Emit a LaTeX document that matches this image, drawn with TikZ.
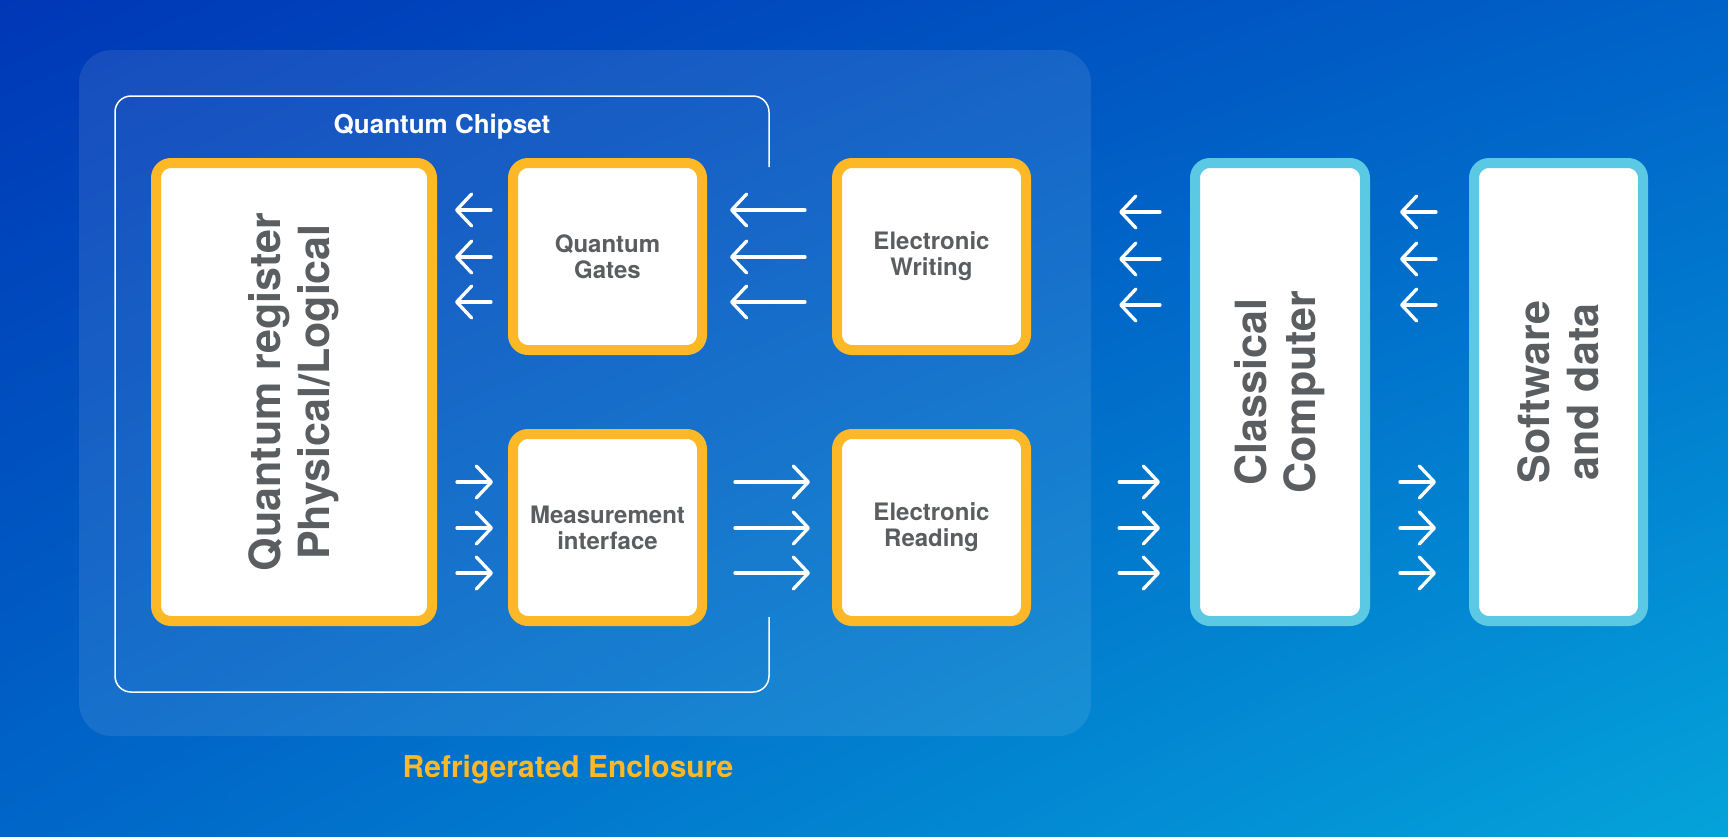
\documentclass[tikz,border=0pt]{standalone}
\usepackage{fontspec}
\setmainfont{TeX Gyre Heros}
\usetikzlibrary{arrows.meta,calc,shadings}
\definecolor{bgTL}{HTML}{0037B6}
\definecolor{bgTR}{HTML}{0062C8}
\definecolor{bgBL}{HTML}{0066C8}
\definecolor{bgBR}{HTML}{04A3DA}
\definecolor{qorange}{HTML}{FDB827}
\definecolor{qcyan}{HTML}{5BC8E4}
\definecolor{qgray}{HTML}{5A5E61}
\tikzset{
  qbox/.style={draw=qorange, line width=10pt, fill=white, rounded corners=15pt,
    inner sep=0pt, text=qgray, align=center,
    font=\bfseries\fontsize{24}{26}\selectfont},
  cbox/.style={qbox, draw=qcyan},
  bigtxt/.style={text=qgray, align=center, font=\bfseries\fontsize{43}{49}\selectfont},
  arr/.style={draw=white, line width=3.3pt, line cap=round,
    -{Straight Barb[length=15pt,width=32pt,line cap=round,line join=round]}},
  encl/.style={fill=white, fill opacity=0.09, rounded corners=33pt, inner sep=0pt},
}
\begin{document}
\begin{tikzpicture}[x=1pt,y=-1pt]
\useasboundingbox (0,0) rectangle (1728,836);
\shade[upper left=bgTL, upper right=bgTR, lower left=bgBL, lower right=bgBR] (0,0) rectangle (1728,836);
% enclosure
\node[encl, minimum width=1012pt, minimum height=686pt] (encl) at (585,393) {};
% chipset outline
\draw[white, line width=1.5pt, rounded corners=16pt] (769,167) -- (769,96) -- (115,96) -- (115,692) -- (769,692) -- (769,617);
\node[text=white, font=\bfseries\fontsize{26}{28}\selectfont] (chip) at (442,127) {Quantum Chipset};
\node[text=qorange, font=\bfseries\fontsize{30}{32}\selectfont] (refr) at (568,770) {Refrigerated Enclosure};
% boxes
\node[qbox, minimum width=276pt, minimum height=458pt] (qr) at (294,392) {};
\node[bigtxt, rotate=90] at (qr.center) {Quantum register\\Physical/Logical};
\node[qbox, minimum width=189pt, minimum height=187pt] (qg) at (607.5,256.5) {Quantum\\Gates};
\node[qbox, minimum width=189pt, minimum height=187pt] (ew) at (931.5,256.5) {Electronic\\Writing};
\node[qbox, minimum width=189pt, minimum height=187pt] (mi) at (607.5,527.5) {Measurement\\interface};
\node[qbox, minimum width=189pt, minimum height=187pt] (er) at (931.5,527.5) {Electronic\\Reading};
\node[cbox, minimum width=170pt, minimum height=458pt] (cc) at (1280,392) {};
\node[bigtxt, rotate=90] at (cc.center) {Classical\\Computer};
\node[cbox, minimum width=169pt, minimum height=458pt] (sd) at (1558.5,392) {};
\node[bigtxt, rotate=90] at (sd.center) {Software\\and data};
% arrows top (leftwards)
\foreach \y in {210,257,302}{
  \draw[arr, shorten <=17pt, shorten >=18pt] (qg.west |- 0,\y) -- (qr.east |- 0,\y);
  \draw[arr, shorten <=27pt, shorten >=23pt] (ew.west |- 0,\y) -- (qg.east |- 0,\y);
}
\foreach \y in {212,259,305}{
  \draw[arr, shorten <=30pt, shorten >=28pt] (cc.west |- 0,\y) -- (encl.east |- 0,\y);
  \draw[arr, shorten <=33pt, shorten >=30pt] (sd.west |- 0,\y) -- (cc.east |- 0,\y);
}
% arrows bottom (rightwards)
\foreach \y in {482,528,573}{
  \draw[arr, shorten <=20pt, shorten >=15pt] (qr.east |- 0,\y) -- (mi.west |- 0,\y);
  \draw[arr, shorten <=28pt, shorten >=22pt] (mi.east |- 0,\y) -- (er.west |- 0,\y);
  \draw[arr, shorten <=28pt, shorten >=30pt] (encl.east |- 0,\y) -- (cc.west |- 0,\y);
  \draw[arr, shorten <=30pt, shorten >=33pt] (cc.east |- 0,\y) -- (sd.west |- 0,\y);
}
\end{tikzpicture}
\end{document}
